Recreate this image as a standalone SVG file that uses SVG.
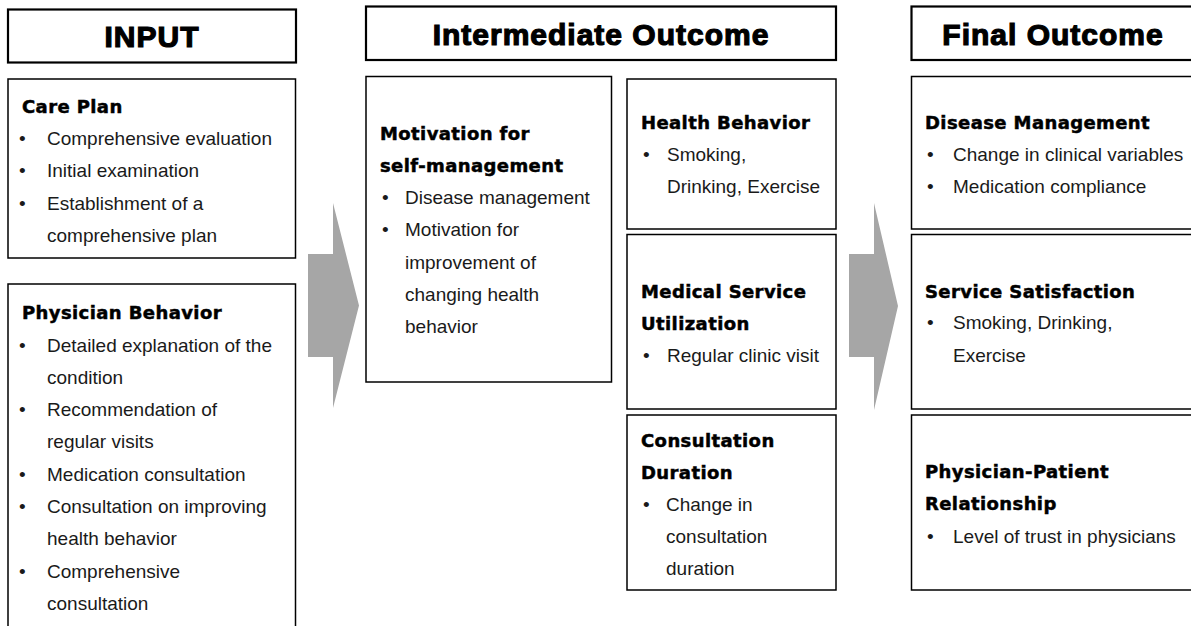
<svg xmlns="http://www.w3.org/2000/svg" width="1191" height="626" viewBox="0 0 1191 626">
<style>
.hdr{fill:#fff;stroke:#000;stroke-width:2.2}
.box{fill:#fff;stroke:#000;stroke-width:1.5}
.ttl{font-family:"Liberation Sans",Arial,sans-serif;font-weight:bold;font-size:30px;letter-spacing:1px;fill:#000;stroke:#000;stroke-width:1.2;text-anchor:middle}
.sub{font-family:"DejaVu Sans","Liberation Sans",sans-serif;font-weight:bold;font-size:18px;letter-spacing:0.4px;fill:#000;stroke:#000;stroke-width:0.5}
.txt{font-family:"Liberation Sans",Arial,sans-serif;font-size:19px;fill:#1a1a1a}
.arrow{fill:#a6a6a6}
</style>
<rect width="1191" height="626" fill="#fff"/>

<g id="connectors">
<polygon class="arrow" points="308,254 333,254 333,203 359,305.5 333,408 333,357 308,357"/>
<polygon class="arrow" points="849,254 874,254 874,203 898,306 874,410 874,357 849,357"/>
</g>

<g id="input-header">
<rect class="hdr" x="8" y="9.5" width="288" height="53"/>
<text class="ttl" x="152" y="47">INPUT</text>
</g>
<g id="intermediate-header">
<rect class="hdr" x="366" y="6.5" width="470" height="53.5"/>
<text class="ttl" x="601" y="44.5">Intermediate Outcome</text>
</g>
<g id="final-header">
<rect class="hdr" x="911.5" y="6.5" width="300" height="53.5"/>
<text class="ttl" x="1053" y="44.5">Final Outcome</text>
</g>

<g id="care-plan">
<rect class="box" x="8" y="79" width="287.5" height="179"/>
<text class="sub" x="22" y="113">Care Plan</text>
<text class="txt" x="19" y="145">•</text><text class="txt" x="47" y="145">Comprehensive evaluation</text>
<text class="txt" x="19" y="177">•</text><text class="txt" x="47" y="177">Initial examination</text>
<text class="txt" x="19" y="209.5">•</text><text class="txt" x="47" y="209.5">Establishment of a</text>
<text class="txt" x="47" y="241.5">comprehensive plan</text>
</g>

<g id="physician-behavior">
<rect class="box" x="8" y="284" width="287.5" height="360"/>
<text class="sub" x="22" y="319">Physician Behavior</text>
<text class="txt" x="19" y="351.5">•</text><text class="txt" x="47" y="351.5">Detailed explanation of the</text>
<text class="txt" x="47" y="383.8">condition</text>
<text class="txt" x="19" y="416.1">•</text><text class="txt" x="47" y="416.1">Recommendation of</text>
<text class="txt" x="47" y="448.4">regular visits</text>
<text class="txt" x="19" y="480.7">•</text><text class="txt" x="47" y="480.7">Medication consultation</text>
<text class="txt" x="19" y="513">•</text><text class="txt" x="47" y="513">Consultation on improving</text>
<text class="txt" x="47" y="545.3">health behavior</text>
<text class="txt" x="19" y="577.6">•</text><text class="txt" x="47" y="577.6">Comprehensive</text>
<text class="txt" x="47" y="609.9">consultation</text>
</g>

<g id="motivation">
<rect class="box" x="366" y="76.5" width="245.5" height="305.5"/>
<text class="sub" x="380" y="139.5">Motivation for</text>
<text class="sub" x="380" y="171.5">self-management</text>
<text class="txt" x="382" y="204">•</text><text class="txt" x="405" y="204">Disease management</text>
<text class="txt" x="382" y="236">•</text><text class="txt" x="405" y="236">Motivation for</text>
<text class="txt" x="405" y="268.5">improvement of</text>
<text class="txt" x="405" y="300.5">changing health</text>
<text class="txt" x="405" y="332.5">behavior</text>
</g>

<g id="health-behavior">
<rect class="box" x="627" y="79" width="209" height="150"/>
<text class="sub" x="641" y="129">Health Behavior</text>
<text class="txt" x="643" y="160.5">•</text><text class="txt" x="667" y="160.5">Smoking,</text>
<text class="txt" x="667" y="193">Drinking, Exercise</text>
</g>

<g id="medical-service">
<rect class="box" x="627" y="234.5" width="209" height="174.5"/>
<text class="sub" x="641" y="297.5">Medical Service</text>
<text class="sub" x="641" y="330">Utilization</text>
<text class="txt" x="643" y="362">•</text><text class="txt" x="667" y="362">Regular clinic visit</text>
</g>

<g id="consultation-duration">
<rect class="box" x="627" y="415" width="209" height="175"/>
<text class="sub" x="641" y="446.5">Consultation</text>
<text class="sub" x="641" y="478.5">Duration</text>
<text class="txt" x="643" y="510.5">•</text><text class="txt" x="666" y="510.5">Change in</text>
<text class="txt" x="666" y="542.5">consultation</text>
<text class="txt" x="666" y="574.5">duration</text>
</g>

<g id="disease-management">
<rect class="box" x="911.5" y="76.5" width="300" height="152.5"/>
<text class="sub" x="925" y="128.5">Disease Management</text>
<text class="txt" x="927" y="160.5">•</text><text class="txt" x="953" y="160.5">Change in clinical variables</text>
<text class="txt" x="927" y="193">•</text><text class="txt" x="953" y="193">Medication compliance</text>
</g>

<g id="service-satisfaction">
<rect class="box" x="911.5" y="234.5" width="300" height="174.5"/>
<text class="sub" x="925" y="297.5">Service Satisfaction</text>
<text class="txt" x="927" y="329">•</text><text class="txt" x="953" y="329">Smoking, Drinking,</text>
<text class="txt" x="953" y="361.5">Exercise</text>
</g>

<g id="physician-patient">
<rect class="box" x="911.5" y="415" width="300" height="175"/>
<text class="sub" x="925" y="478">Physician-Patient</text>
<text class="sub" x="925" y="510">Relationship</text>
<text class="txt" x="927" y="542.5">•</text><text class="txt" x="953" y="542.5">Level of trust in physicians</text>
</g>
</svg>
